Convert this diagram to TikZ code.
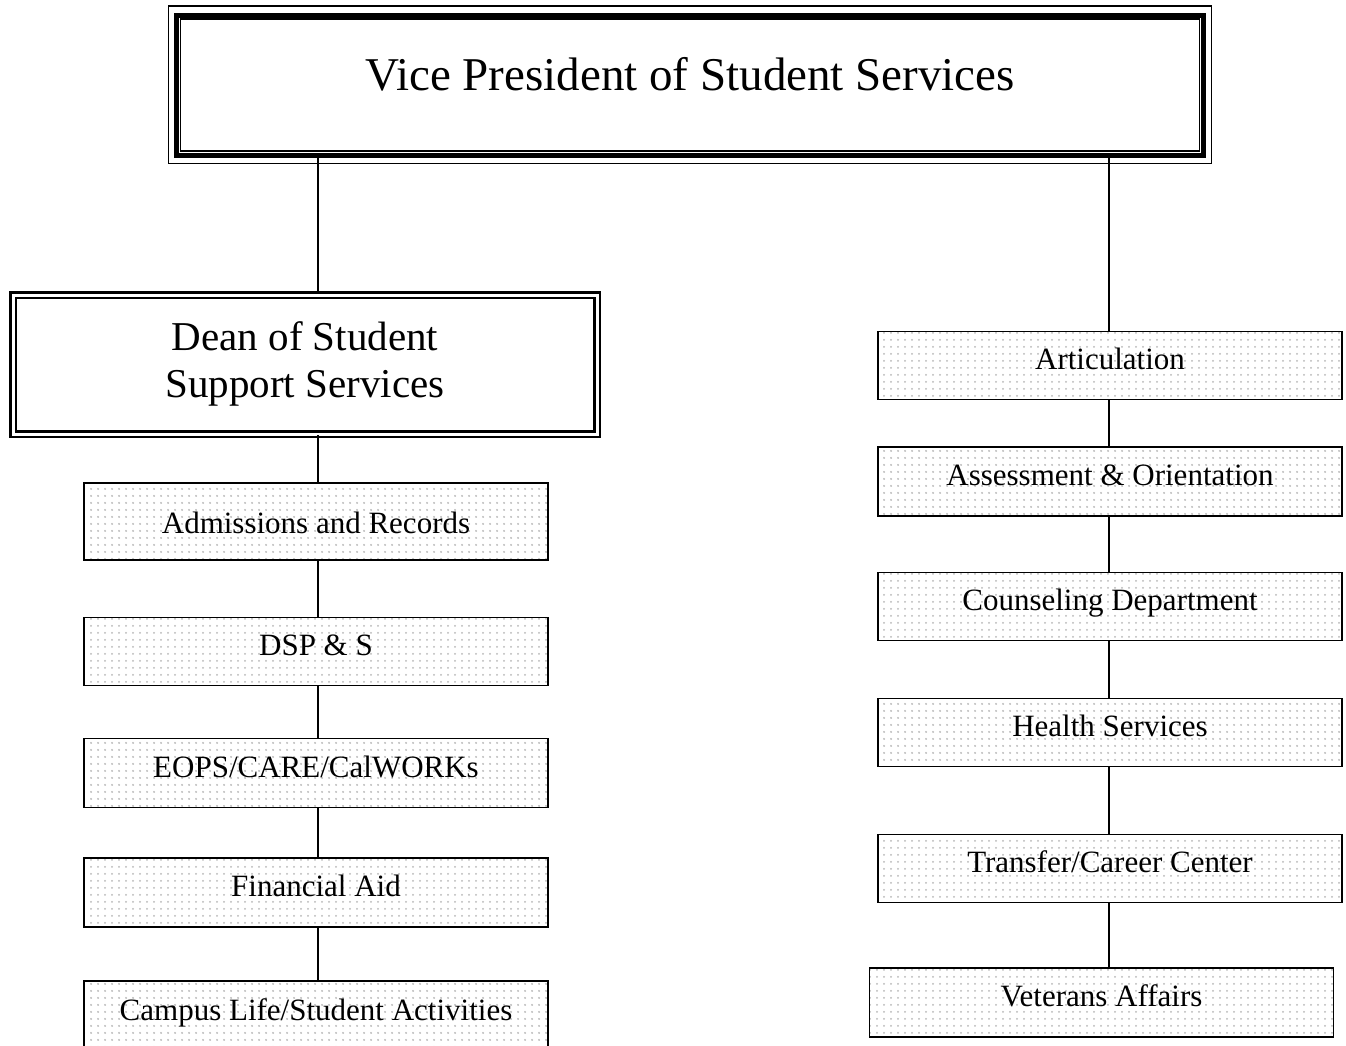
\documentclass[tikz,border=0pt]{standalone}
\usepackage{fontspec}
\setmainfont{Liberation Serif}
\usetikzlibrary{patterns.meta}
\begin{document}
\begin{tikzpicture}[x=1pt,y=-1pt,
  unitbox/.style={draw, line width=1.8pt, preaction={fill=white},
    pattern={Dots[radius=1.1pt,distance=6.5pt]}, pattern color=black!28,
    minimum width=464pt, minimum height=68pt, inner sep=0pt,
    font=\fontsize{31}{36}\selectfont, text height=21pt, text depth=13pt},
  link/.style={line width=1.4pt}]
\clip (0,0) rectangle (1346,1046);
\fill[white] (0,0) rectangle (1346,1046);

% top box with triple frame
\node[draw, line width=5pt, minimum width=1027pt, minimum height=139.5pt,
  inner sep=0pt, font=\fontsize{47}{55}\selectfont,
  text height=31pt, text depth=20pt] (vp) at (690,85.25)
  {Vice President of Student Services};
\draw[line width=1.8pt] ([xshift=-5.5pt,yshift=7pt]vp.north west)
  rectangle ([xshift=5.5pt,yshift=-6pt]vp.south east);
\draw[line width=1.6pt] ([xshift=6.5pt,yshift=-6pt]vp.north west)
  rectangle ([xshift=-6.5pt,yshift=6.5pt]vp.south east);

% dean box with double frame
\node[draw, line width=2.4pt, double, double distance=3pt, double=white,
  minimum width=584pt, minimum height=139pt, inner sep=0pt, align=center,
  font=\fontsize{41}{48}\selectfont] (dean) at (305,364.5)
  {\raisebox{12pt}{\begin{tabular}{@{}c@{}}Dean of Student\\[-1pt]Support Services\end{tabular}}};

% left column
\node[unitbox, minimum height=77pt, text height=23pt, text depth=0pt] (adm) at (316,521.5) {Admissions and Records};
\node[unitbox] (dsp) at (316,651.5) {DSP \& S};
\node[unitbox, minimum height=69pt] (eops) at (316,773) {EOPS/CARE/CalWORKs};
\node[unitbox, minimum height=69pt] (fin) at (316,892.5) {Financial Aid};
\node[unitbox, minimum height=70pt] (camp) at (316,1016) {Campus Life/Student Activities};

% right column
\node[unitbox] (art) at (1110,365.5) {Articulation};
\node[unitbox, minimum height=69pt] (ass) at (1110,481.5) {Assessment \& Orientation};
\node[unitbox] (cou) at (1110,606.5) {Counseling Department};
\node[unitbox] (hea) at (1110,732.5) {Health Services};
\node[unitbox] (tra) at (1110,868.5) {Transfer/Career Center};
\node[unitbox, minimum height=69pt] (vet) at (1101.5,1002.5) {Veterans Affairs};

% connectors
\draw[link] ([xshift=2pt]adm.north |- vp.south) -- ([xshift=2pt]adm.north |- dean.north);
\draw[link] ([xshift=2pt]adm.north |- dean.south) -- ([xshift=2pt]adm.north);
\draw[link] ([xshift=2pt]adm.south) -- ([xshift=2pt]dsp.north);
\draw[link] ([xshift=2pt]dsp.south) -- ([xshift=2pt]eops.north);
\draw[link] ([xshift=2pt]eops.south) -- ([xshift=2pt]fin.north);
\draw[link] ([xshift=2pt]fin.south) -- ([xshift=2pt]camp.north);

\draw[link] ([xshift=-1pt]art.north |- vp.south) -- ([xshift=-1pt]art.north);
\draw[link] ([xshift=-1pt]art.south) -- ([xshift=-1pt]ass.north);
\draw[link] ([xshift=-1pt]ass.south) -- ([xshift=-1pt]cou.north);
\draw[link] ([xshift=-1pt]cou.south) -- ([xshift=-1pt]hea.north);
\draw[link] ([xshift=-1pt]hea.south) -- ([xshift=-1pt]tra.north);
\draw[link] ([xshift=-1pt]tra.south) -- ([xshift=-1pt]tra.south |- vet.north);
\end{tikzpicture}
\end{document}
